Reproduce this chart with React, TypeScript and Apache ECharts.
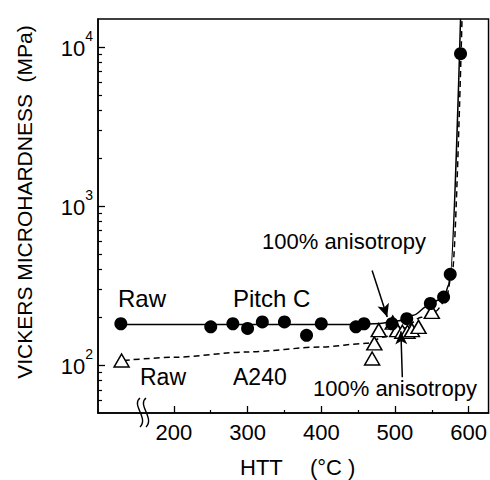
import React, { useEffect, useRef } from "react";
import * as echarts from "echarts";

// Measured points (HTT in °C, hardness in MPa); the "Raw" samples sit left of the axis break.
const pitchCPoints: [number, number][] = [
  [128, 182], [250, 174], [280, 182], [300, 170], [320, 187], [350, 187], [380, 154],
  [400, 182], [447, 174], [458, 182], [496, 182], [516, 196], [548, 244], [566, 268],
  [575, 372], [589, 9080],
];
const a240Points: [number, number][] = [
  [129, 107], [469, 110], [472, 137], [478, 166], [497, 185], [503, 166], [510, 162],
  [517, 162], [523, 166], [532, 174], [550, 216],
];
// Fitted curves drawn through the data
const pitchCFit: [number, number][] = [
  [128, 180], [440, 180], [480, 183], [505, 190], [525, 206], [545, 236], [560, 258],
  [568, 280], [573, 320], [575, 372], [589, 15000],
];
const a240Fit: [number, number][] = [
  [132, 107], [200, 112], [300, 121], [400, 130], [461, 137], [485, 150], [512, 171],
  [536, 200], [555, 218], [569, 256], [578, 394], [591, 15000],
];
// Annotation arrows (start -> tip)
const arrowUpper: [number, number][] = [[469, 394], [489.5, 201]];
const arrowLower: [number, number][] = [[510, 84], [508, 163]];

const xTickLabels = [200, 300, 400, 500, 600];
const xMinorTicks = [250, 350, 450, 550];
const yTickValues = [100, 1000, 10000];
const yMinorTicks = [60, 70, 80, 90, 200, 300, 400, 500, 600, 700, 800, 900,
  2000, 3000, 4000, 5000, 6000, 7000, 8000, 9000];

const FONT = '"Liberation Sans", Arial, sans-serif';

export default function App() {
  const ref = useRef<HTMLDivElement>(null);
  useEffect(() => {
    if (!ref.current) return;
    const chart = echarts.init(ref.current, null, { renderer: "svg" });
    const xMin = 97, xMax = 627, yMin = 50, yMax = 15000;
    const breakCurves = [136, 142].map((x0) => ({
      type: "bezierCurve",
      shape: { x1: x0 + 4, y1: 398, cpx1: x0 - 5, cpy1: 405, cpx2: x0 + 13, cpy2: 418, x2: x0 + 4, y2: 427 },
      style: { stroke: "#000", lineWidth: 1.4, fill: null },
      z: 100,
    }));
    const txt = (text: string, x: number, y: number, size: number, extra: any = {}) => ({
      type: "text",
      x, y,
      z: 100,
      ...extra,
      style: { text, font: `${size}px ${FONT}`, fill: "#000", align: "left", verticalAlign: "middle", ...(extra.style || {}) },
    });
    chart.setOption({
      animation: false,
      backgroundColor: "#fff",
      grid: { left: 98, right: 0, top: 19, bottom: 67, show: true, borderColor: "#000", borderWidth: 1.5, backgroundColor: "transparent" },
      xAxis: [
        {
          type: "value", min: xMin, max: xMax, position: "bottom",
          axisLine: { show: true, onZero: false, lineStyle: { color: "#000", width: 1.5 } },
          axisTick: { show: true, inside: true, length: 7, customValues: xTickLabels, lineStyle: { color: "#000", width: 1.3 } },
          axisLabel: { show: true, customValues: xTickLabels, margin: 8, fontSize: 22, fontFamily: FONT, color: "#000" },
          splitLine: { show: false },
        },
        {
          type: "value", min: xMin, max: xMax, position: "bottom",
          axisLine: { show: false, onZero: false },
          axisTick: { show: true, inside: true, length: 3, customValues: xMinorTicks, lineStyle: { color: "#000", width: 1.2 } },
          axisLabel: { show: false },
          splitLine: { show: false },
        },
      ],
      yAxis: [
        {
          type: "log", min: yMin, max: yMax, position: "left",
          axisLine: { show: true, onZero: false, lineStyle: { color: "#000", width: 1.5 } },
          axisTick: { show: true, inside: true, length: 7, customValues: yTickValues, lineStyle: { color: "#000", width: 1.3 } },
          axisLabel: {
            show: true, customValues: yTickValues, margin: 5,
            formatter: (v: number) => `{b|10}{s|${Math.round(Math.log10(v))}}`,
            padding: [0, 0, 6, 0],
            rich: {
              b: { fontSize: 22, fontFamily: FONT, color: "#000", lineHeight: 30, verticalAlign: "bottom" },
              s: { fontSize: 14, fontFamily: FONT, color: "#000", lineHeight: 30, verticalAlign: "top" },
            },
          },
          splitLine: { show: false },
        },
        {
          type: "log", min: yMin, max: yMax, position: "left",
          axisLine: { show: false, onZero: false },
          axisTick: { show: true, inside: true, length: 4, customValues: yMinorTicks, lineStyle: { color: "#000", width: 1.2 } },
          axisLabel: { show: false },
          splitLine: { show: false },
        },
      ],
      series: [
        {
          name: "Pitch C fit", type: "line", data: pitchCFit, xAxisIndex: 0, yAxisIndex: 0,
          showSymbol: false, symbol: "none", smooth: 0.3, smoothMonotone: "x",
          lineStyle: { color: "#000", width: 1.5 }, silent: true, z: 2,
          markLine: {
            silent: true, symbol: ["none", "arrow"], symbolSize: [9, 13],
            label: { show: false },
            lineStyle: { color: "#000", width: 1.5, type: "solid" },
            data: [
              [{ coord: arrowUpper[0] }, { coord: arrowUpper[1] }],
              [{ coord: arrowLower[0] }, { coord: arrowLower[1] }],
            ],
          },
        },
        {
          name: "A240 fit", type: "line", data: a240Fit, xAxisIndex: 0, yAxisIndex: 0,
          showSymbol: false, symbol: "none", smooth: 0.3, smoothMonotone: "x",
          lineStyle: { color: "#000", width: 1.5, type: [6, 4] }, silent: true, z: 2,
        },
        {
          name: "A240", type: "scatter", data: a240Points, xAxisIndex: 0, yAxisIndex: 0,
          symbol: "triangle", symbolSize: [15, 13],
          itemStyle: { color: "#fff", borderColor: "#000", borderWidth: 1.5, opacity: 1 }, z: 3,
        },
        {
          name: "Pitch C", type: "scatter", data: pitchCPoints, xAxisIndex: 0, yAxisIndex: 0,
          symbol: "circle", symbolSize: 13,
          itemStyle: { color: "#000", opacity: 1 }, z: 4,
        },
      ],
      graphic: [
        ...breakCurves,
        txt("Raw", 118, 298, 24),
        txt("Pitch C", 233, 298, 24),
        txt("Raw", 140, 377, 23),
        txt("A240", 233, 377, 23),
        txt("100% anisotropy", 262, 241, 22),
        txt("100% anisotropy", 313, 388, 22),
        txt("HTT", 240, 467, 22),
        txt("(°C )", 310, 467, 22),
        {
          type: "text", x: 24, y: 202, rotation: Math.PI / 2, z: 100,
          style: { text: "VICKERS MICROHARDNESS  (MPa)", font: `21px ${FONT}`, fill: "#000", align: "center", verticalAlign: "middle" },
        },
      ],
    });
    return () => chart.dispose();
  }, []);
  return <div ref={ref} style={{ position: "absolute", left: 0, top: 0, width: 490, height: 480 }} />;
}
